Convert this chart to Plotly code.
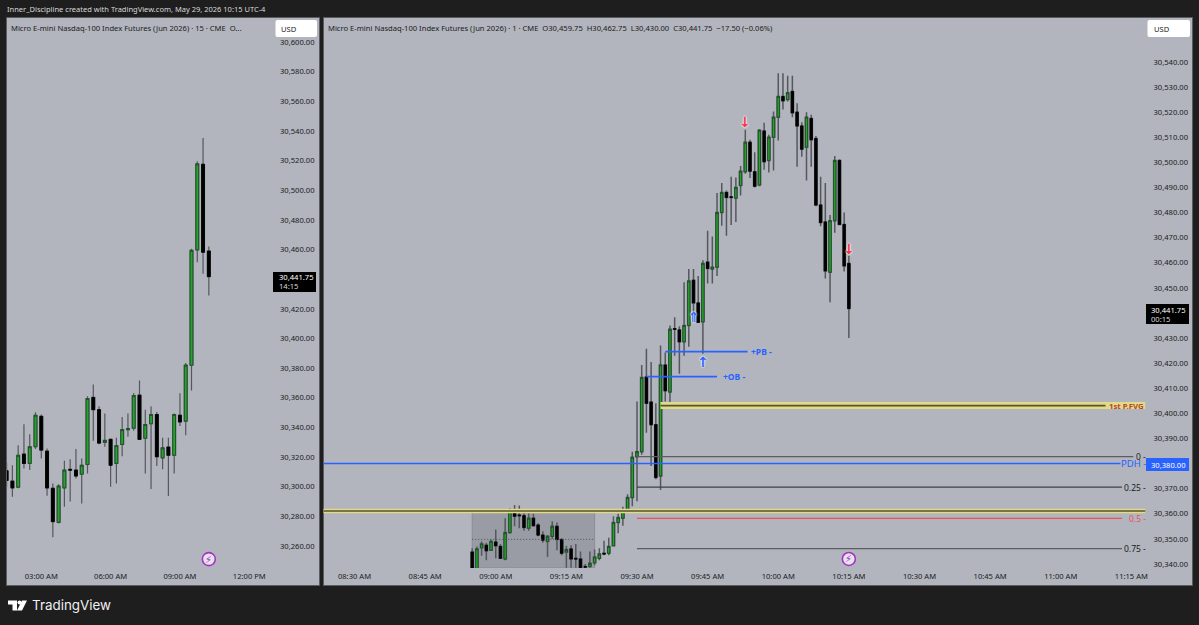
import pandas as pd
import plotly.graph_objects as go

# ---------- data ----------
o15 = [30310.75,30303.75,30299.75,30322,30315.75,30327,30347.5,30324,30299,30276,30299.25,30311.75,30311.25,30308.5,30315,30360.25,30352,30330,30332,30315.75,30328.5,30338.5,30339.5,30361.75,30332.75,30342.5,30348.75,30319.5,30326.75,30321.25,30348.25,30344.25,30382,30459.75,30517.5,30459]
h15 = [30316,30314.5,30328,30342.25,30335.5,30350.25,30348.75,30325.75,30302.25,30301.75,30317.5,30318.5,30325.5,30319,30361,30369,30354.25,30349.5,30332.5,30333,30347,30349.5,30363.25,30371.75,30352,30354.25,30350.5,30333,30333,30349.5,30363,30383.5,30460.5,30519.5,30535.25,30462]
l15 = [30300,30293.25,30299,30312.25,30311.25,30325.5,30319,30294,30266,30275.25,30286.5,30290,30305.5,30288.75,30309,30331,30328.75,30327,30300,30302.25,30320.5,30333.75,30337.75,30331.5,30309,30298.5,30314,30311.75,30293.75,30309,30341,30334.75,30365,30451.5,30443.75,30429]
c15 = [30304.25,30299.25,30321.25,30315.75,30327,30348.25,30324.75,30299.25,30276.5,30300.5,30311.25,30311.25,30307.25,30314.5,30359.5,30352,30329.5,30331.25,30314.5,30327.75,30338.5,30339.25,30361.5,30332,30342,30348.75,30320.25,30326.25,30321.25,30348.75,30343.75,30382,30459.5,30517.75,30458.25,30441.75]

o1 = [30344.75,30336,30346.5,30347.5,30345.5,30348.75,30347,30342,30352.5,30361,30359.5,30359.25,30354.25,30358.25,30355.5,30351.5,30349,30351,30355,30349.75,30344.75,30346,30342.25,30342,30339,30339,30340.5,30342.25,30344.25,30344.25,30347.25,30356.5,30358.25,30361,30366.5,30382.75,30384.75,30414.5,30404.5,30395.5,30375,30419.25,30408.5,30433.75,30433.25,30428.5,30435,30453,30444,30436.5,30460.25,30457.5,30458.25,30480,30488,30486.25,30485.75,30490.75,30496.25,30508,30496.25,30491,30512.5,30500.75,30510,30518,30526.25,30525,30528.25,30520,30514.5,30506,30517.5,30509.5,30483,30476.25,30456.25,30476.75,30500.75,30475.25,30459.75]
h1 = [30346.25,30347,30349,30348.5,30349.75,30353.75,30348,30358.25,30362.25,30363.5,30363.25,30360.5,30360.25,30360,30356.25,30353,30351.5,30357,30356.5,30350.25,30347.25,30347.5,30348,30345,30340,30345,30345.75,30346.25,30349.25,30350.5,30359,30360,30362.75,30367.75,30384.75,30404.75,30419.25,30425.75,30420.5,30404,30427,30424.25,30435,30438.25,30434.75,30452.25,30457.5,30457.5,30454.75,30461,30472.75,30470.5,30487.75,30491.75,30488.75,30494.25,30494,30498.5,30513,30509,30504,30513.25,30515.75,30511,30520.25,30535.5,30535.5,30534.5,30534.5,30523.5,30516,30520,30519,30510.5,30494.25,30491.75,30479,30502.5,30501.25,30480,30462.75]
l1 = [30335,30335,30343.25,30341.5,30345.25,30342.25,30342,30341.5,30352,30355,30354.25,30353.25,30353.25,30355,30351,30348.5,30342.75,30350,30345.5,30343.5,30338.5,30338.5,30338.5,30337.5,30338.5,30338.5,30339.5,30341.5,30343.5,30343.5,30347,30352.25,30355.25,30360.75,30363,30365,30383.5,30392.25,30379,30373.75,30369.5,30404.75,30404.5,30423,30415.75,30423,30426.5,30440.5,30436,30423.75,30451.75,30451.75,30454.75,30474.75,30470.75,30475,30476.25,30486.75,30495.5,30493.75,30490,30490.5,30497,30496,30496.75,30508.75,30521,30524.25,30518,30498.25,30502.25,30492.75,30498.25,30482.5,30474.5,30453.75,30444.25,30472,30475,30456.5,30430]
c1 = [30337,30346,30348,30345.25,30349,30347.25,30342.25,30352.5,30361.25,30359,30359.25,30354.5,30358.25,30355.25,30351.5,30349.5,30351,30355,30349.75,30344.25,30345.75,30342,30342,30338.5,30338.75,30340.25,30342.75,30344,30344,30347,30356.5,30358.5,30361.5,30366.5,30382.5,30384.75,30414.25,30404,30395.5,30374.5,30419.25,30409,30433.5,30433.5,30428.5,30435,30452.75,30444,30436.25,30459.75,30457.75,30458.25,30480,30488,30486,30486,30490,30496.5,30508,30496.5,30490.5,30512.75,30500.25,30510,30518,30526.25,30524.5,30527.75,30519.75,30514.5,30505.25,30518,30509,30483,30476,30456.75,30476.75,30500.75,30475.25,30458.75,30441.75]

left_ticks = [30260,30280,30300,30320,30340,30360,30380,30400,30420,30460,30480,30500,30520,30540,30560,30580,30600]
right_ticks = [30340,30350,30360,30370,30390,30400,30410,30420,30430,30450,30460,30470,30480,30490,30500,30510,30520,30530,30540]

DAY = "2026-05-29 "
t15 = pd.date_range(DAY + "01:30", periods=len(c15), freq="15min")
t1 = pd.date_range(DAY + "08:55", periods=len(c1), freq="1min")

RANGE_END = DAY + "11:18"
FVG_START = DAY + "09:35"
FVG_LEVEL = 30403.1
FVG_LINE_END = DAY + "11:09:30"
GOLD_LEVEL = 30361.1
PDH_LEVEL = 30380.0
PB_LEVEL, PB_T = 30424.6, [DAY + "09:36", DAY + "09:53:30"]
OB_LEVEL, OB_T = 30414.6, [DAY + "09:32", DAY + "09:47"]
FIB_START = DAY + "09:30"
FIB_LEVELS = [("0", 30382.75, DAY + "11:15:25", "#5b5d63"),
              ("0.25", 30370.6, DAY + "11:13", "#3f4146"),
              ("0.5", 30358.2, DAY + "11:13", "#e8505f"),
              ("0.75", 30346.1, DAY + "11:13", "#5b5d63")]
BOX_T = [DAY + "08:55", DAY + "09:21"]
BOX_P = [30338.5, 30360.8]
BOX_MID = 30349.8

W, H = 1199, 625
PANEL = "#b2b5be"
DARK = "#1e1e1e"
TXT = "#1a1c22"
BLUE = "#2962ff"
RED = "#f23645"
FONT = "Noto Sans"
FS = 7.6

def fx(px): return px / W
def fy(py): return 1 - py / H

fig = go.Figure()

def add_candles(t, o, h, l, c, xa, ya, wick_w):
    base = dict(x=t, xaxis=xa, yaxis=ya, hoverinfo="skip", showlegend=False, whiskerwidth=0)
    fig.add_trace(go.Candlestick(open=o, high=h, low=l, close=c,
        increasing=dict(line=dict(color="#55575d", width=wick_w), fillcolor="#55575d"),
        decreasing=dict(line=dict(color="#55575d", width=wick_w), fillcolor="#55575d"), **base))
    fig.add_trace(go.Candlestick(open=o, close=c,
        high=[max(a, b) for a, b in zip(o, c)], low=[min(a, b) for a, b in zip(o, c)],
        increasing=dict(line=dict(color="#1b4f24", width=0.9), fillcolor="#27a32f"),
        decreasing=dict(line=dict(color="#000000", width=0.9), fillcolor="#000000"), **base))

def add_line(x, y, color, width, dash="solid"):
    fig.add_trace(go.Scatter(x=x, y=y, mode="lines", xaxis="x2", yaxis="y2", hoverinfo="skip",
                             showlegend=False, line=dict(color=color, width=width, dash=dash)))

# levels behind the candles
add_line(BOX_T, [BOX_MID, BOX_MID], "#4d4f55", 1, "1px,2px")
add_line([t1[0] - pd.Timedelta(minutes=60), RANGE_END], [GOLD_LEVEL, GOLD_LEVEL], "#e2da88", 4.5)
add_line([t1[0] - pd.Timedelta(minutes=60), RANGE_END], [GOLD_LEVEL, GOLD_LEVEL], "#55542c", 1.4)
add_line([t1[0] - pd.Timedelta(minutes=60), DAY + "11:12:40"], [PDH_LEVEL, PDH_LEVEL], BLUE, 1.4)
add_line([FVG_START, RANGE_END], [FVG_LEVEL, FVG_LEVEL], "#e2da88", 7)
add_line([FVG_START, FVG_LINE_END], [FVG_LEVEL, FVG_LEVEL], "#55542c", 1.6)
add_line(PB_T, [PB_LEVEL, PB_LEVEL], BLUE, 1.8)
add_line(OB_T, [OB_LEVEL, OB_LEVEL], BLUE, 1.8)
for name, lvl, end, col in FIB_LEVELS:
    add_line([FIB_START, end], [lvl, lvl], col, 1.3)

add_candles(t15, o15, h15, l15, c15, "x", "y", 1.2)
add_candles(t1, o1, h1, l1, c1, "x2", "y2", 1.5)

# event markers
fig.add_trace(go.Scatter(x=[t15[-1]], y=[30251.2], mode="markers", xaxis="x", yaxis="y", hoverinfo="skip",
                         showlegend=False, marker=dict(size=13, color="#e6e3ea", line=dict(color="#a533c7", width=1.6))))
fig.add_trace(go.Scatter(x=[t1[-1]], y=[30342], mode="markers", xaxis="x2", yaxis="y2", hoverinfo="skip",
                         showlegend=False, marker=dict(size=13, color="#e6e3ea", line=dict(color="#a533c7", width=1.6))))

def xaxis(domain, anchor, rng, dtick):
    return dict(domain=domain, anchor=anchor, range=rng, type="date", tickformat="%I:%M %p", tick0=DAY + "00:00",
                dtick=dtick, showgrid=False, zeroline=False, showline=False, ticks="", ticklen=0,
                rangeslider=dict(visible=False), tickfont=dict(family=FONT, size=FS, color=TXT), ticklabelstandoff=2)

def yaxis(domain, anchor, rng, ticks):
    return dict(domain=domain, anchor=anchor, side="right", range=rng, tickmode="array", tickvals=ticks,
                ticktext=[f"{v:,.2f}" for v in ticks], showgrid=False, zeroline=False, showline=False,
                ticks="", tickfont=dict(family=FONT, size=FS, color=TXT), ticklabelstandoff=7)

ydom = [fy(568), fy(18)]

shapes = []
# panels
for x0, x1 in [(6.5, 319.5), (323.5, 1192.5)]:
    shapes.append(dict(type="rect", xref="paper", yref="paper", x0=fx(x0), x1=fx(x1), y0=fy(585.5), y1=fy(17.5),
                       fillcolor=PANEL, line=dict(color="#5a5c60", width=1), layer="below"))
# opening-range box
shapes.append(dict(type="rect", xref="x2", yref="y2", x0=BOX_T[0], x1=BOX_T[1], y0=BOX_P[0], y1=BOX_P[1],
                   fillcolor="rgba(95,98,108,0.30)", line=dict(color="#8b8e96", width=1), layer="below"))

def rrect(x0, y0, x1, y1, r):
    X, Y = fx, fy
    return (f"M{X(x0+r)},{Y(y0)} L{X(x1-r)},{Y(y0)} Q{X(x1)},{Y(y0)} {X(x1)},{Y(y0+r)} "
            f"L{X(x1)},{Y(y1-r)} Q{X(x1)},{Y(y1)} {X(x1-r)},{Y(y1)} L{X(x0+r)},{Y(y1)} "
            f"Q{X(x0)},{Y(y1)} {X(x0)},{Y(y1-r)} L{X(x0)},{Y(y0+r)} Q{X(x0)},{Y(y0)} {X(x0+r)},{Y(y0)} Z")

for x0, x1 in [(275.5, 317), (1147.5, 1190)]:
    shapes.append(dict(type="path", xref="paper", yref="paper", path=rrect(x0, 20, x1, 37, 2),
                       fillcolor="#ffffff", line=dict(width=0), layer="above"))
# price labels
for x0, x1, y0, y1, col in [(273, 316, 272, 292, "#000000"), (1146, 1189, 304, 324, "#000000"), (1146, 1189, 458, 471, BLUE)]:
    shapes.append(dict(type="rect", xref="paper", yref="paper", x0=fx(x0), x1=fx(x1), y0=fy(y1), y1=fy(y0),
                       fillcolor=col, line=dict(width=0), layer="above"))

# TradingView mark
def poly(pts):
    return "M" + " L".join(f"{fx(a)},{fy(b)}" for a, b in pts) + " Z"
logo = [
    poly([(8, 600.5), (17, 600.5), (17, 610.5), (12.5, 610.5), (12.5, 604.5), (8, 604.5)]),
    poly([(22, 600.5), (27, 600.5), (22, 610.5), (17, 610.5)]),
]
for p in logo:
    shapes.append(dict(type="path", xref="paper", yref="paper", path=p, fillcolor="#ffffff", line=dict(width=0), layer="above"))
shapes.append(dict(type="circle", xref="paper", yref="paper", x0=fx(17.5), x1=fx(21.5), y0=fy(604.5), y1=fy(600.5),
                   fillcolor="#ffffff", line=dict(width=0), layer="above"))

ann = []
def text(px, py, s, size=FS, color=TXT, anchor="left", family=FONT):
    ann.append(dict(xref="paper", yref="paper", x=fx(px), y=fy(py), text=s, showarrow=False,
                    xanchor=anchor, yanchor="middle", borderpad=0,
                    font=dict(family=family, size=size, color=color)))

def dtext(x, y, s, size, color, xa="x2", ya="y2", anchor="center", family=FONT, shadow=None, xshift=0):
    f = dict(family=family, size=size, color=color)
    if shadow: f["shadow"] = shadow
    ann.append(dict(xref=xa, yref=ya, x=x, y=y, text=s, showarrow=False, xanchor=anchor, yanchor="middle",
                    borderpad=0, font=f, xshift=xshift))

NB = "\u00a0"
text(6, 9.5, "Inner_Discipline created with TradingView.com, May 29, 2026 10:15 UTC-4", color="#d8d9dc", size=7.5)
text(10, 27.5, f"Micro E-mini Nasdaq-100 Index Futures (Jun 2026) · 15 · CME{NB}{NB}O...")
text(327, 27.5, f"Micro E-mini Nasdaq-100 Index Futures (Jun 2026) · 1 · CME{NB}{NB}O30,459.75{NB}{NB}H30,462.75{NB}{NB}L30,430.00{NB}{NB}C30,441.75{NB}{NB}−17.50 (−0.06%)")
text(280, 29, "USD")
text(1152.5, 29, "USD")

text(278, 277, "30,441.75", color="#ffffff")
text(278, 286, "14:15", color="#d5d6da")
text(1150, 309.5, "30,441.75", color="#ffffff")
text(1150, 318.5, "00:15", color="#d5d6da")
text(1150, 464.5, "30,380.00", color="#ffffff")

text(31, 605, "TradingView", size=13.4, color="#f0f0f0", family="Inter")

dtext(DAY + "09:54", PB_LEVEL, "<b>+PB -</b>", 8.5, BLUE, anchor="left")
dtext(DAY + "09:48", OB_LEVEL, "<b>+OB -</b>", 8.5, BLUE, anchor="left")
dtext(RANGE_END, FVG_LEVEL, "<b>1st P.FVG</b>", 7.8, "#b5472c", anchor="right", xshift=-1)
dtext(RANGE_END, PDH_LEVEL, "PDH -", 9.5, BLUE, anchor="right", xshift=1)
for (name, lvl, end, col), col2 in zip(FIB_LEVELS, [TXT, TXT, "#e8505f", TXT]):
    dtext(RANGE_END, lvl, name + " -", 8.5, col2, anchor="right", xshift=1)

SH = "0 0 2px #ffffff, 0 0 2px #ffffff"
AF = "DejaVu Sans"
dtext(DAY + "09:42", 30438.4, "<b>⇑</b>", 14, BLUE, family=AF, shadow=SH)
dtext(DAY + "09:44", 30420.6, "<b>↑</b>", 14, BLUE, family=AF, shadow=SH)
dtext(DAY + "09:53", 30516.1, "<b>↓</b>", 14, RED, family=AF, shadow=SH)
dtext(DAY + "10:15", 30465.5, "<b>↓</b>", 14, RED, family=AF, shadow=SH)
dtext(t15[-1], 30251.2, "⚡", 10, "#a533c7", xa="x", ya="y", family=AF)
dtext(t1[-1], 30342, "⚡", 10, "#a533c7", family=AF)

fig.update_layout(
    width=W, height=H, margin=dict(l=0, r=0, t=0, b=0, pad=0, autoexpand=False), autosize=False,
    paper_bgcolor=DARK, plot_bgcolor="rgba(0,0,0,0)", showlegend=False,
    xaxis=xaxis([fx(7), fx(272)], "y", [DAY + "01:31", DAY + "12:59"], 3 * 3600 * 1000),
    yaxis=yaxis(ydom, "x", [30245.2, 30616.2], left_ticks),
    xaxis2=xaxis([fx(323.5), fx(1145.5)], "y2", [DAY + "08:23:25", RANGE_END], 15 * 60 * 1000),
    yaxis2=yaxis(ydom, "x2", [30338.4, 30557.5], right_ticks),
    shapes=shapes, annotations=ann,
)

POST = """
for (const el of [document.documentElement, document.body]) {
  el.style.margin = '0'; el.style.padding = '0'; el.style.overflow = 'hidden'; el.style.background = '#1e1e1e';
}
"""
fig.write_html("out.html", config=dict(displayModeBar=False), post_script=POST)
